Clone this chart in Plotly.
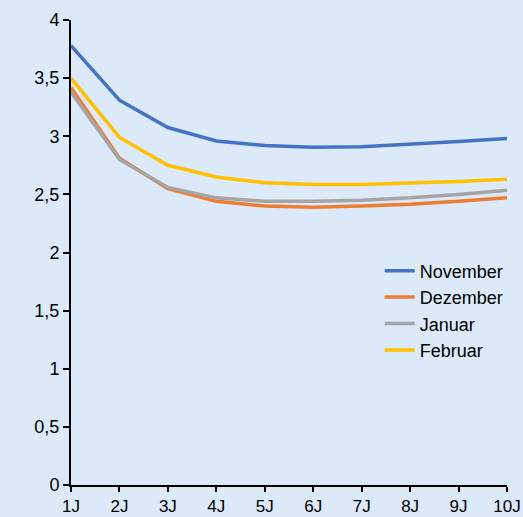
import plotly.graph_objects as go

categories = ["1J", "2J", "3J", "4J", "5J", "6J", "7J", "8J", "9J", "10J"]
november = [3.78, 3.31, 3.075, 2.96, 2.92, 2.905, 2.91, 2.93, 2.955, 2.98]
dezember = [3.42, 2.81, 2.55, 2.44, 2.40, 2.39, 2.40, 2.415, 2.44, 2.47]
januar = [3.38, 2.80, 2.56, 2.47, 2.44, 2.44, 2.45, 2.47, 2.50, 2.535]
februar = [3.50, 2.99, 2.75, 2.65, 2.60, 2.585, 2.585, 2.595, 2.61, 2.63]

series = [
    ("November", november, "#4472C4"),
    ("Dezember", dezember, "#ED7D31"),
    ("Januar", januar, "#A5A5A5"),
    ("Februar", februar, "#FFC000"),
]

fig = go.Figure()
for name, vals, color in series:
    fig.add_trace(go.Scatter(x=categories, y=vals, name=name, mode="lines",
                             line=dict(color=color, width=3.5)))

bg = "#DCE9F8"
fig.update_layout(
    width=523, height=517,
    paper_bgcolor=bg, plot_bgcolor=bg,
    margin=dict(l=71, r=16, t=20, b=32),
    separators=",.",
    font=dict(family="Liberation Sans, Arial, sans-serif", size=18, color="#000000"),
    showlegend=True,
    legend=dict(x=0.708, y=0.5, xanchor="left", yanchor="top",
                bgcolor="rgba(0,0,0,0)", font=dict(size=18),
                tracegroupgap=0, itemwidth=30),
)
fig.update_xaxes(type="category", range=[0, 9], showline=True, linecolor="#000000",
                 linewidth=2, ticks="outside", ticklen=5, tickwidth=2,
                 tickcolor="#000000", showgrid=False, zeroline=False,
                 automargin=False, tickfont=dict(size=17))
fig.update_yaxes(range=[0, 4], dtick=0.5, showline=True, linecolor="#000000",
                 linewidth=2, ticks="outside", ticklen=6, tickwidth=2,
                 tickcolor="#000000", showgrid=False, zeroline=False,
                 automargin=False, tickfont=dict(size=18))

fig.write_html(
    "out.html",
    config={"displayModeBar": False},
    post_script="document.body.style.margin='0';document.body.style.overflow='hidden';"
                "document.body.style.background='" + bg + "';",
)
